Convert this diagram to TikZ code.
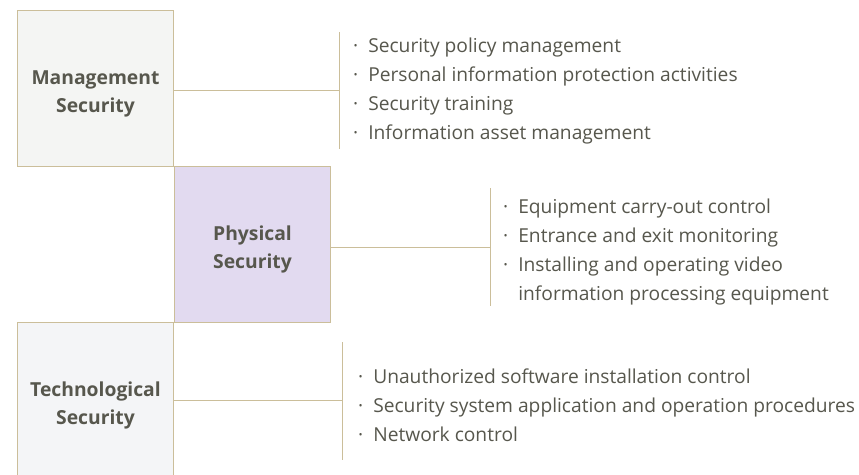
\documentclass[tikz,border=0pt]{standalone}
\usepackage{fontspec}
\setmainfont{Open Sans}
\definecolor{tanline}{HTML}{CBBE9A}
\definecolor{txt}{HTML}{57574D}
\definecolor{mfill}{HTML}{F4F5F3}
\definecolor{pfill}{HTML}{E2DAF0}
\definecolor{tfill}{HTML}{F4F5F7}
\begin{document}
\begin{tikzpicture}[x=1pt,y=-1pt,
  catbox/.style={draw=tanline, line width=1pt, inner sep=0pt, minimum width=156pt, minimum height=156pt, anchor=north west},
  cattext/.style={font=\bfseries\fontsize{19.3}{28}\selectfont, text=txt, align=center, inner sep=0pt, yshift=-5pt},
  items/.style={font=\fontsize{19.2}{29}\selectfont, text=txt, anchor=west, inner sep=0pt},
  link/.style={draw=tanline, line width=1pt}]
\useasboundingbox (0,0) rectangle (859,474);
\clip (0,0) rectangle (859,474);
\fill[white] (0,0) rectangle (859,474);
\node[catbox, fill=mfill, label={[cattext]center:{Management\\Security}}] (mgmt) at (17,10) {};
\node[catbox, fill=pfill, label={[cattext]center:{Physical\\Security}}] (phys) at (174,166) {};
\node[catbox, fill=tfill, label={[cattext]center:{Technological\\Security}}] (tech) at (17,322) {};
% branch points
\coordinate (mj) at (339,90);
\coordinate (mt) at (339,32);
\coordinate (mb) at (339,149);
\coordinate (pj) at (490,247);
\coordinate (pt) at (490,188);
\coordinate (pb) at (490,306);
\coordinate (tj) at (342,400);
\coordinate (tt) at (342,342);
\coordinate (tb) at (342,460);
\draw[link] (mgmt.east |- mj) -- (mj);
\draw[link] (mt) -- (mb);
\draw[link] (phys.east |- pj) -- (pj);
\draw[link] (pt) -- (pb);
\draw[link] (tech.east |- tj) -- (tj);
\draw[link] (tt) -- (tb);
\node[items] (mlist) at (353,90) {\begin{tabular}{@{}l@{\hspace{10pt}}l@{}}
·&Security policy management\\
·&Personal information protection activities\\
·&Security training\\
·&Information asset management
\end{tabular}};
\node[items] (plist) at (503,251) {\begin{tabular}{@{}l@{\hspace{10pt}}l@{}}
·&Equipment carry-out control\\
·&Entrance and exit monitoring\\
·&Installing and operating video\\
&information processing equipment
\end{tabular}};
\node[items] (tlist) at (358,406.5) {\begin{tabular}{@{}l@{\hspace{10pt}}l@{}}
·&Unauthorized software installation control\\
·&Security system application and operation procedures\\
·&Network control
\end{tabular}};
\end{tikzpicture}
\end{document}
